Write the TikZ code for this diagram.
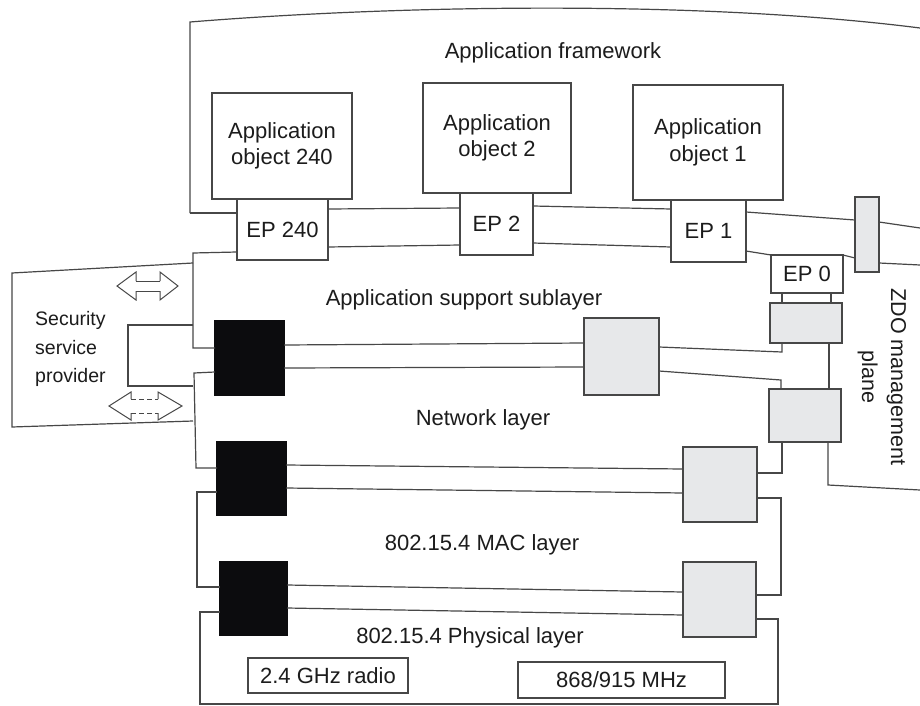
\documentclass[tikz,border=0pt]{standalone}
\usepackage{fontspec}
\setmainfont{Liberation Sans}
\definecolor{ink}{HTML}{474747}
\definecolor{txt}{HTML}{1C1C1C}
\definecolor{sap}{HTML}{E7E8EA}
\definecolor{sec}{HTML}{0C0C0E}
\newcommand\labfont{\fontsize{22}{26.5}\selectfont}
\newcommand\sspfont{\fontsize{19.5}{28.5}\selectfont}
\newcommand\zdofont{\fontsize{21.5}{29}\selectfont}
% \bx{name}{style}{x1}{y1}{x2}{y2}{text}: box given by its corners (y grows downwards)
\newcommand\bx[7]{\node[#2, anchor=north west, minimum width={(#5-#3)*1pt}, minimum height={(#6-#4)*1pt}] (#1) at (#3,#4) {#7};}
\tikzset{
  lay/.style={draw=ink, line width=1.2pt, line join=miter},
  box/.style={draw=ink, line width=1.2pt, fill=white, inner sep=0pt, outer sep=0pt, text=txt, align=center, font=\labfont},
  sapbox/.style={box, fill=sap},
  secbox/.style={draw=sec, line width=1.2pt, fill=sec, inner sep=0pt, outer sep=0pt},
  lbl/.style={text=txt, font=\labfont, inner sep=0pt},
  arr/.style={draw=ink, line width=1pt, line join=miter},
  dashshaft/.style={arr, dash pattern=on 5pt off 3pt}
}
\begin{document}
\begin{tikzpicture}[x=1pt, y=-1pt]
\useasboundingbox (0,0) rectangle (920,706);
\fill[white] (0,0) rectangle (920,706);

% application framework outline (open to the right)
\draw[lay] (190,213) -- (190,22) .. controls (400,5) and (700,0) .. (920,28);

% application objects and end points
\bx{ao240}{box}{212}{93}{352}{199}{Application\\object 240}
\bx{ao2}{box}{423}{83}{571}{193}{Application\\object 2}
\bx{ao1}{box}{633}{85}{783}{200}{Application\\object 1}
\bx{ep240}{box}{237}{199}{328}{260}{EP 240}
\bx{ep2}{box}{460}{193}{533}{255}{EP 2}
\bx{ep1}{box}{671}{200}{746}{262}{EP 1}
\bx{ep0}{box}{771}{255}{843}{293}{EP 0}

% management service access points (grey)
\bx{zbar}{sapbox}{855}{197}{879}{272}{}
\bx{g1}{sapbox}{770}{303}{842}{343}{}
\bx{g2}{sapbox}{769}{389}{841}{442}{}
\bx{ga}{sapbox}{584}{318}{659}{395}{}
\bx{gn}{sapbox}{683}{447}{757}{522}{}
\bx{gm}{sapbox}{683}{562}{756}{637}{}

% security service access points (black)
\bx{b1}{secbox}{215}{321}{284}{395}{}
\bx{b2}{secbox}{217}{442}{286}{515}{}
\bx{b3}{secbox}{220}{562}{287}{635}{}

% radios
\bx{r24}{box}{248}{658}{408}{693}{2.4 GHz radio}
\bx{r868}{box}{518}{662}{725}{698}{868/915 MHz}

% framework bottom edge
\draw[lay] (190,213) -- (ep240.west |- 0,213);
\draw[lay] (ep240.east |- 0,209) -- (ep2.west |- 0,208);
\draw[lay] (ep2.east |- 0,206) -- (ep1.west |- 0,209);
\draw[lay] (ep1.east |- 0,212) -- (zbar.west |- 0,220);
\draw[lay] (zbar.east |- 0,222) -- (920,228);

% application support sublayer
\draw[lay] (ep240.west |- 0,252) -- (193,253) -- (193,348) -- (b1.west |- 0,348);
\draw[lay] (ep240.east |- 0,247) -- (ep2.west |- 0,245);
\draw[lay] (ep2.east |- 0,243) -- (ep1.west |- 0,247);
\draw[lay] (ep1.east |- 0,251) -- (ep0.north west);
\draw[lay] (ep0.north east) -- (zbar.west |- 0,258);
\draw[lay] (zbar.east |- 0,263) -- (920,265);
\draw[lay] (b1.east |- 0,345) -- (ga.west |- 0,343);
\draw[lay] (ga.east |- 0,347) -- (782,352) -- (782,0 |- g1.south);
\draw[lay] (782,0 |- ep0.south) -- (782,0 |- g1.north);
\draw[lay] (831,0 |- ep0.south) -- (831,0 |- g1.north);

% ZDO management plane
\draw[lay] (829,0 |- g1.south) -- (829,0 |- g2.north);
\draw[lay] (828,0 |- g2.south) -- (828,485) -- (920,490);

% network layer
\draw[lay] (b1.west |- 0,372) -- (194,373) -- (196,468) -- (b2.west |- 0,468);
\draw[lay] (b1.east |- 0,368) -- (ga.west |- 0,367);
\draw[lay] (ga.east |- 0,371) -- (781,380) -- (781,0 |- g2.north);
\draw[lay] (782,0 |- g2.south) -- (782,473) -- (gn.east |- 0,473);
\draw[lay] (b2.east |- 0,465) -- (gn.west |- 0,469);

% MAC layer
\draw[lay] (b2.west |- 0,492) -- (197,492) -- (197,587) -- (b3.west |- 0,587);
\draw[lay] (b2.east |- 0,488) -- (gn.west |- 0,493);
\draw[lay] (gn.east |- 0,498) -- (781,498) -- (781,595) -- (gm.east |- 0,595);
\draw[lay] (b3.east |- 0,585) -- (gm.west |- 0,592);

% physical layer
\draw[lay] (b3.west |- 0,612) -- (200,612) -- (200,704) -- (778,704) -- (778,619) -- (gm.east |- 0,619);
\draw[lay] (b3.east |- 0,608) -- (gm.west |- 0,615);

% security service provider
\draw[lay] (193,263) -- (12,273) -- (12,427) -- (193,421);
\draw[lay] (193,325) -- (128,325) -- (128,386) -- (193,386);
\node[lbl, font=\sspfont, align=left, anchor=west] (ssp) at (35,349) {Security\\service\\provider};

% hollow double arrows
\draw[arr] (136,281) -- (136,272) -- (117,286) -- (136,300) -- (136,291);
\draw[arr] (160,281) -- (160,272) -- (178,286) -- (160,300) -- (160,291);
\draw[arr] (136,281) -- (160,281) (136,291) -- (160,291);
\draw[arr] (131,399) -- (131,392) -- (109,406) -- (131,420) -- (131,413);
\draw[arr] (158,399) -- (158,392) -- (182,406) -- (158,420) -- (158,413);
\draw[dashshaft] (131,399) -- (158,399) (131,413) -- (158,413);

% layer names
\node[lbl] (fwk) at (553,53) {Application framework};
\node[lbl] (aps) at (464,300) {Application support sublayer};
\node[lbl] (nwk) at (483,420) {Network layer};
\node[lbl] (mac) at (482,545) {802.15.4 MAC layer};
\node[lbl] (phy) at (470,638) {802.15.4 Physical layer};
\node[lbl, font=\zdofont, rotate=-90, align=center] (zdo) at (882,377) {ZDO management\\plane};
\end{tikzpicture}
\end{document}
